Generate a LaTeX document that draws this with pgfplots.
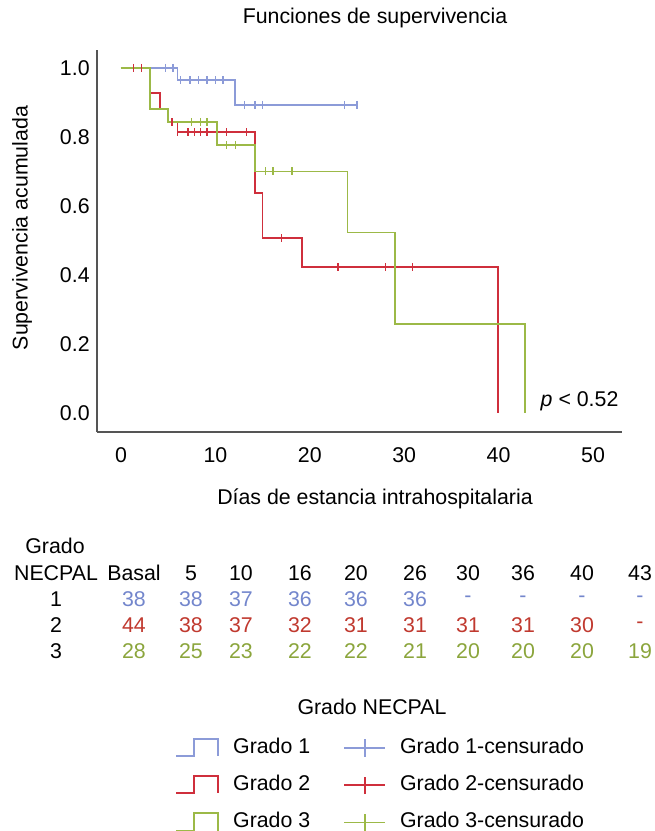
\documentclass[border=0pt]{standalone}
\usepackage{fontspec}
\setmainfont{Liberation Sans}
\usepackage{pgfplots}
\pgfplotsset{compat=1.18}
\definecolor{gA}{HTML}{8C9BD8}
\definecolor{gB}{HTML}{CF2F3C}
\definecolor{gC}{HTML}{9CB947}
\definecolor{tA}{HTML}{7386CC}
\definecolor{tB}{HTML}{C0392F}
\definecolor{tC}{HTML}{8BA53C}
\definecolor{axc}{HTML}{555555}
\begin{document}
\begin{tikzpicture}[font=\fontsize{16}{19}\selectfont]
\begin{axis}[
  scale only axis, width=393.75pt, height=286.5pt,
  xmin=-2.54, xmax=53.07, ymin=-0.055, ymax=1.052,
  axis x line=bottom, axis y line=left,
  axis line style={-, draw=axc, line width=1.3pt},
  xtick={0,10,20,30,40,50}, xticklabels={0,10,20,30,40,50},
  ytick={0,0.2,0.4,0.6,0.8,1.0}, yticklabels={0.0,0.2,0.4,0.6,0.8,1.0},
  major tick length=0pt,
  xticklabel style={yshift=-8.5pt},
  yticklabel style={xshift=-2pt},
  clip=false,
  legend columns=2,
  legend style={at={(axis description cs:0.1486,-0.80)}, anchor=north west,
    draw=none, fill=none, inner sep=0pt, row sep=12.8pt,
    nodes={inner sep=0pt, anchor=west, text height=11.5pt, text depth=3.5pt},
    /tikz/every even column/.append style={column sep=24.75pt}},
]
% Grado 1
\addplot[const plot, gA, line width=1.3pt,
  legend image code/.code={\draw[gA, line width=1.3pt] (0pt,-6pt) -- (13.5pt,-6pt) -- (13.5pt,7pt) -- (31.5pt,7pt) -- (31.5pt,-6pt); \path[draw=none] (0pt,0pt) -- (42.75pt,0pt);}]
  coordinates {(0,1) (6.0,0.965) (12.1,0.893) (25.0,0.893)};
\addlegendentry{Grado 1}
\addplot[only marks, mark=|, mark size=3pt, gA, mark options={line width=1pt},
  legend image code/.code={\draw[gA, line width=1.3pt] (0pt,0pt) -- (31pt,0pt); \draw[gA, line width=1.3pt] (15.5pt,-6.5pt) -- (15.5pt,6.5pt); \path[draw=none] (0pt,0pt) -- (42pt,0pt);}]
  coordinates {(4.7,1) (5.5,1) (6.3,0.965) (7.3,0.965) (8.2,0.965) (9.1,0.965) (10.0,0.965) (10.8,0.965) (13.1,0.893) (14.2,0.893) (15.0,0.893) (23.7,0.893) (25.0,0.893)};
\addlegendentry{Grado 1-censurado}
% Grado 2
\addplot[const plot, gB, line width=1.3pt,
  legend image code/.code={\draw[gB, line width=1.3pt] (0pt,-6pt) -- (13.5pt,-6pt) -- (13.5pt,7pt) -- (31.5pt,7pt) -- (31.5pt,-6pt); \path[draw=none] (0pt,0pt) -- (42.75pt,0pt);}]
  coordinates {(0,1) (3.1,0.928) (4.1,0.88) (5.0,0.843) (6.0,0.814) (14.2,0.638) (15.0,0.507) (19.2,0.423) (39.9,0)};
\addlegendentry{Grado 2}
\addplot[only marks, mark=|, mark size=3pt, gB, mark options={line width=1pt},
  legend image code/.code={\draw[gB, line width=1.3pt] (0pt,0pt) -- (31pt,0pt); \draw[gB, line width=1.3pt] (15.5pt,-6.5pt) -- (15.5pt,6.5pt); \path[draw=none] (0pt,0pt) -- (42pt,0pt);}]
  coordinates {(1.3,1) (2.2,1) (5.4,0.843) (6.0,0.814) (7.1,0.814) (7.8,0.814) (8.4,0.814) (9.1,0.814) (11.2,0.814) (13.3,0.814) (17.0,0.507) (23.0,0.423) (28.0,0.423) (30.9,0.423)};
\addlegendentry{Grado 2-censurado}
% Grado 3
\addplot[const plot, gC, line width=1.3pt,
  legend image code/.code={\draw[gC, line width=1.3pt] (0pt,-6pt) -- (13.5pt,-6pt) -- (13.5pt,7pt) -- (31.5pt,7pt) -- (31.5pt,-6pt); \path[draw=none] (0pt,0pt) -- (42.75pt,0pt);}]
  coordinates {(0,1) (3.1,0.881) (5.0,0.843) (10.2,0.777) (14.2,0.70) (24.0,0.523) (29.0,0.259) (42.8,0)};
\addlegendentry{Grado 3}
\addplot[only marks, mark=|, mark size=3pt, gC, mark options={line width=1pt},
  legend image code/.code={\draw[gC, line width=1.3pt] (0pt,0pt) -- (31pt,0pt); \draw[gC, line width=1.3pt] (15.5pt,-6.5pt) -- (15.5pt,6.5pt); \path[draw=none] (0pt,0pt) -- (42pt,0pt);}]
  coordinates {(7.5,0.843) (8.4,0.843) (9.1,0.843) (11.2,0.777) (12.1,0.777) (15.3,0.70) (16.1,0.70) (18.1,0.70)};
\addlegendentry{Grado 3-censurado}
\end{axis}
\begin{scope}[x=0.75pt, y=-0.75pt, shift={(-72.75pt,324pt)}]
  \node at (375,18) {Funciones de supervivencia};
  \node[rotate=90] at (22,228) {Supervivencia acumulada};
  \node at (375,499) {Días de estancia intrahospitalaria};
  \node[anchor=west] at (536,401) {\textit{p} < 0.52};
  % risk table
  \node at (55,546) {Grado};
  \node at (56,573) {NECPAL};
  \foreach \x/\t in {134/Basal,191/5,241/10,300/16,356/20,415/26,468/30,523/36,582/40,640/43}
    \node at (\x,573) {\t};
  \node at (56,599) {1};
  \node at (56,625) {2};
  \node at (56,651) {3};
  \foreach \x/\t in {134/38,191/38,241/37,300/36,356/36,415/36,468/-,523/-,582/-,640/-}
    \node[text=tA] at (\x,599) {\t};
  \foreach \x/\t in {134/44,191/38,241/37,300/32,356/31,415/31,468/31,523/31,582/30,640/-}
    \node[text=tB] at (\x,625) {\t};
  \foreach \x/\t in {134/28,191/25,241/23,300/22,356/22,415/21,468/20,523/20,582/20,640/19}
    \node[text=tC] at (\x,651) {\t};
  \node at (372,707) {Grado NECPAL};
  \pgfresetboundingbox
  \path[use as bounding box] (0,0) rectangle (654,831);
\end{scope}
\end{tikzpicture}
\end{document}
